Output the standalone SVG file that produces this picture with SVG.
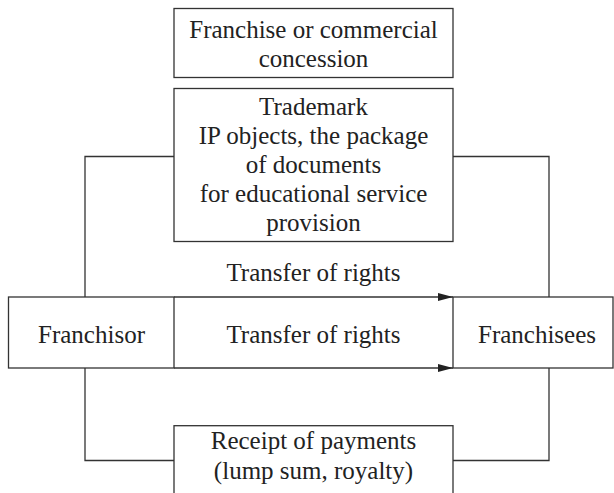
<svg xmlns="http://www.w3.org/2000/svg" width="614" height="493" viewBox="0 0 614 493">
<style>
.box{fill:#fff;stroke:#333;stroke-width:1.3}
.ln{fill:none;stroke:#333;stroke-width:1.3}
text{font-family:"Liberation Serif","Times New Roman",serif;font-size:25px;fill:#222;text-anchor:middle}
</style>
<defs>
<marker id="ah" markerWidth="15" markerHeight="8" refX="15" refY="4" orient="auto" markerUnits="userSpaceOnUse">
<path d="M0,0 L15,4 L0,8 Z" fill="#222"/>
</marker>
</defs>
<rect width="614" height="493" fill="#fff"/>
<g id="connectors">
<path class="ln" d="M174,156.5 H85 V297"/>
<path class="ln" d="M453,156.5 H549 V297"/>
<path class="ln" d="M85,368 V460.5 H174"/>
<path class="ln" d="M549,368 V460.5 H453"/>
<path class="ln" d="M174,297 H453" marker-end="url(#ah)"/>
<path class="ln" d="M174,368 H453" marker-end="url(#ah)"/>
<text x="313.5" y="281">Transfer of rights</text>
<text x="313.5" y="343">Transfer of rights</text>
</g>
<g id="franchise">
<rect class="box" x="174" y="8.5" width="279" height="69"/>
<text x="313.5" y="38">Franchise or commercial</text>
<text x="313.5" y="67">concession</text>
</g>
<g id="trademark">
<rect class="box" x="174" y="88.5" width="279" height="153"/>
<text x="313.5" y="115">Trademark</text>
<text x="313.5" y="144">IP objects, the package</text>
<text x="313.5" y="173">of documents</text>
<text x="313.5" y="202">for educational service</text>
<text x="313.5" y="231">provision</text>
</g>
<g id="franchisor">
<rect class="box" x="8.5" y="297" width="165.5" height="71"/>
<text x="91.5" y="343">Franchisor</text>
</g>
<g id="franchisees">
<rect class="box" x="453" y="297" width="160" height="71"/>
<text x="537" y="343">Franchisees</text>
</g>
<g id="receipt">
<rect class="box" x="174" y="425.7" width="279" height="80"/>
<text x="313.5" y="449">Receipt of payments</text>
<text x="313.5" y="479">(lump sum, royalty)</text>
</g>
</svg>
